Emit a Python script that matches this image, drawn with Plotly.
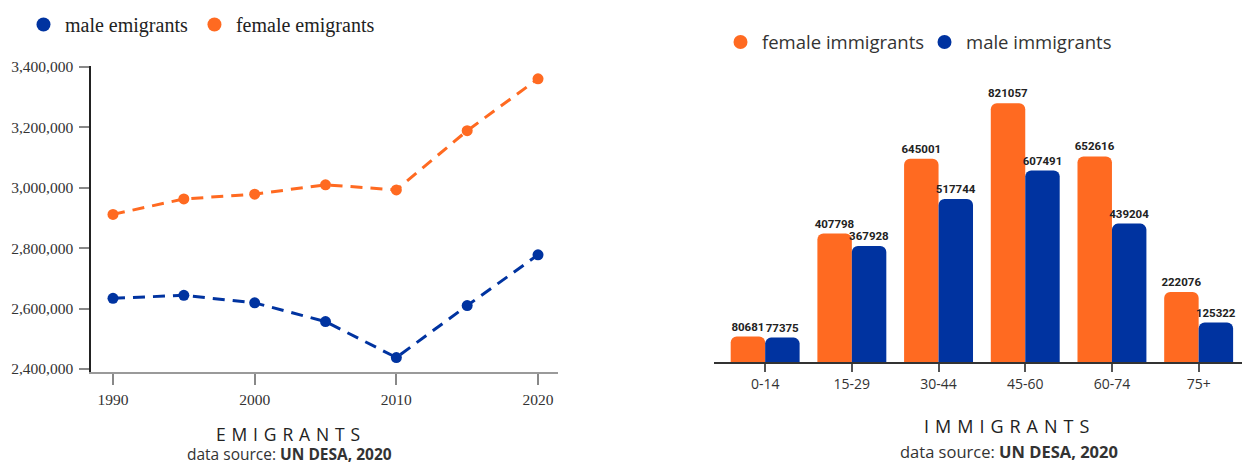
import plotly.graph_objects as go

W, H = 1242, 464

# ---------------- data ----------------
years = [1990, 1995, 2000, 2005, 2010, 2015, 2020]
male_emigrants = [2634000, 2644000, 2619000, 2557000, 2438000, 2610000, 2778000]
female_emigrants = [2912000, 2963000, 2979000, 3010000, 2993000, 3189000, 3361000]
emi_yticks = [2400000, 2600000, 2800000, 3000000, 3200000, 3400000]
emi_xticks = [1990, 2000, 2010, 2020]

age_groups = ["0-14", "15-29", "30-44", "45-60", "60-74", "75+"]
female_immigrants = [80681, 407798, 645001, 821057, 652616, 222076]
male_immigrants = [77375, 367928, 517744, 607491, 439204, 125322]

ORANGE = "#FF6A21"
BLUE = "#0033A0"

def py(px):
    return 1 - px / H

def pxx(px):
    return px / W

fig = go.Figure()

# ---------------- left: emigrants line chart ----------------
fig.add_trace(go.Scatter(
    x=years, y=female_emigrants, mode="lines+markers",
    line=dict(color=ORANGE, width=3, dash="12px,8px"),
    marker=dict(color=ORANGE, size=11), showlegend=False,
    xaxis="x", yaxis="y", hoverinfo="x+y"))
fig.add_trace(go.Scatter(
    x=years, y=male_emigrants, mode="lines+markers",
    line=dict(color=BLUE, width=3, dash="12px,8px"),
    marker=dict(color=BLUE, size=11), showlegend=False,
    xaxis="x", yaxis="y", hoverinfo="x+y"))
# legend entries (circles only)
fig.add_trace(go.Scatter(x=[None], y=[None], mode="markers", name="male emigrants",
                         marker=dict(color=BLUE, size=14), legend="legend",
                         xaxis="x", yaxis="y"))
fig.add_trace(go.Scatter(x=[None], y=[None], mode="markers", name="female emigrants",
                         marker=dict(color=ORANGE, size=14), legend="legend",
                         xaxis="x", yaxis="y"))

# ---------------- right: immigrants bar chart ----------------
bar_font = dict(family="Roboto, Arial, sans-serif", size=11.5, color="#222", weight="bold")
fig.add_trace(go.Bar(
    x=age_groups, y=female_immigrants, name="female immigrants",
    marker=dict(color=ORANGE, line=dict(width=0)),
    text=[str(v) for v in female_immigrants], textposition="outside",
    constraintext="none", cliponaxis=False, textfont=bar_font,
    showlegend=False, xaxis="x2", yaxis="y2"))
fig.add_trace(go.Bar(
    x=age_groups, y=male_immigrants, name="male immigrants",
    marker=dict(color=BLUE, line=dict(width=0)),
    text=[str(v) for v in male_immigrants], textposition="outside",
    constraintext="none", cliponaxis=False, textfont=bar_font,
    showlegend=False, xaxis="x2", yaxis="y2"))
fig.add_trace(go.Scatter(x=[None], y=[None], mode="markers", name="female immigrants",
                         marker=dict(color=ORANGE, size=14), legend="legend2",
                         xaxis="x2", yaxis="y2"))
fig.add_trace(go.Scatter(x=[None], y=[None], mode="markers", name="male immigrants",
                         marker=dict(color=BLUE, size=14), legend="legend2",
                         xaxis="x2", yaxis="y2"))

serif = "Liberation Serif, Times New Roman, serif"
sans = "Open Sans, Lato, sans-serif"

fig.update_layout(
    width=W, height=H,
    margin=dict(l=0, r=0, t=0, b=0, autoexpand=False),
    paper_bgcolor="white", plot_bgcolor="white",
    barmode="group", bargap=0.205, bargroupgap=0, barcornerradius=6,
    xaxis=dict(
        domain=[pxx(91), pxx(558)], range=[1988.447, 2021.41],
        tickvals=emi_xticks, ticktext=[str(v) for v in emi_xticks],
        showgrid=False, zeroline=False, automargin=False,
        showline=True, linecolor="#9a9a9a", linewidth=1.5,
        ticks="outside", ticklen=11, tickcolor="#888", tickwidth=1.5,
        ticklabelstandoff=2,
        tickfont=dict(family=serif, size=15.5, color="#333"),
        anchor="y"),
    yaxis=dict(
        domain=[py(372), py(65.7)], range=[2390066, 3404300],
        tickvals=emi_yticks, tickformat=",",
        showgrid=False, zeroline=False, automargin=False,
        showline=True, linecolor="#222", linewidth=1.5,
        ticks="outside", ticklen=10, tickcolor="#888", tickwidth=1.5,
        ticklabelstandoff=3,
        tickfont=dict(family=serif, size=15.5, color="#333"),
        anchor="x"),
    xaxis2=dict(
        domain=[pxx(714), 1.0], range=[-0.59, 5.5],
        type="category", categoryorder="array", categoryarray=age_groups,
        showgrid=False, zeroline=False, automargin=False,
        showline=True, linecolor="#333", linewidth=1.5,
        ticks="outside", ticklen=8, tickcolor="#555", tickwidth=1.5,
        tickfont=dict(family=sans, size=14, color="#333"),
        anchor="y2"),
    yaxis2=dict(
        domain=[py(362), py(60)], range=[0, 958548],
        visible=False, showgrid=False, zeroline=False, automargin=False,
        anchor="x2"),
    legend=dict(
        orientation="h", x=pxx(22), xanchor="left", y=py(24.5), yanchor="middle",
        font=dict(family=serif, size=20, color="#222"),
        bgcolor="rgba(0,0,0,0)", itemwidth=33),
    legend2=dict(
        orientation="h", x=pxx(719), xanchor="left", y=py(42.5), yanchor="middle",
        font=dict(family=sans, size=18.5, color="#333"),
        bgcolor="rgba(0,0,0,0)", itemwidth=33,
        entrywidth=156, entrywidthmode="pixels"),
    showlegend=True,
)

sp = "\u2004"
common = dict(xref="paper", yref="paper", showarrow=False, xanchor="center", yanchor="middle")
fig.add_annotation(x=pxx(288), y=py(434), text=sp.join("EMIGRANTS"),
                   font=dict(family=sans, size=17.5, color="#222"), **common)
fig.add_annotation(x=pxx(289), y=py(454), text="data source: <b>UN DESA, 2020</b>",
                   font=dict(family=sans, size=15.5, color="#333"), **common)
fig.add_annotation(x=pxx(1006.5), y=py(425.5), text=sp.join("IMMIGRANTS"),
                   font=dict(family=sans, size=18, color="#222"), **common)
fig.add_annotation(x=pxx(1008.5), y=py(451), text="data source: <b>UN DESA, 2020</b>",
                   font=dict(family=sans, size=16.5, color="#333"), **common)

fig.write_html("out.html", config={"displayModeBar": False},
               post_script="document.body.style.margin='0';")
